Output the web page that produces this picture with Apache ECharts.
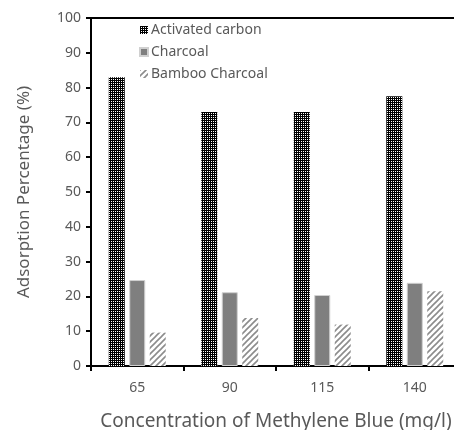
<!DOCTYPE html>
<html>
<head>
<meta charset="utf-8">
<script src="https://cdn.jsdelivr.net/npm/echarts@6/dist/echarts.min.js"></script>
<style>
  html, body { margin: 0; padding: 0; background: #fff; }
  #chart { width: 454px; height: 430px; }
</style>
</head>
<body>
<div id="chart"></div>
<script>
// 数据
const concentrations = ['65', '90', '115', '140'];
const activatedCarbon = [83, 73, 73, 77.5];
const charcoal = [24.7, 21.2, 20.4, 23.9];
const bambooCharcoal = [9.6, 13.8, 11.9, 21.5];

// 填充图案
function makeDots() {
    const c = document.createElement('canvas');
    c.width = 4; c.height = 4;
    const g = c.getContext('2d');
    g.fillStyle = '#000';
    g.fillRect(0, 0, 4, 4);
    g.fillStyle = '#fff';
    [[1, 1], [3, 3], [1, 3], [3, 1]].forEach(p => g.fillRect(p[0], p[1], 1, 1));
    return c;
}

function makeHatch() {
    const c = document.createElement('canvas');
    c.width = 6; c.height = 6;
    const g = c.getContext('2d');
    g.fillStyle = '#fff';
    g.fillRect(0, 0, 6, 6);
    g.strokeStyle = '#8c8c8c';
    g.lineWidth = 1.6;
    g.beginPath();
    g.moveTo(-1, 7); g.lineTo(7, -1);
    g.moveTo(-1, 1); g.lineTo(1, -1);
    g.moveTo(5, 7); g.lineTo(7, 5);
    g.stroke();
    return c;
}

const FONT = 'Noto Sans';
const GREY = '#595959';

const chart = echarts.init(document.getElementById('chart'));

chart.setOption({
    animation: false,
    textStyle: { fontFamily: FONT },
    legend: {
        orient: 'vertical',
        left: 134,
        top: 18,
        itemWidth: 8,
        itemHeight: 8,
        itemGap: 8,
        icon: 'rect',
        textStyle: { color: GREY, fontSize: 14, fontFamily: FONT, padding: [0, 0, 0, -2] },
        data: ['Activated carbon', 'Charcoal', 'Bamboo Charcoal']
    },
    grid: { left: 91, top: 18, width: 370, height: 348, outerBoundsMode: 'none', containLabel: false },
    xAxis: [{
        type: 'category',
        data: concentrations,
        name: 'Concentration of Methylene Blue (mg/l)',
        nameLocation: 'middle',
        nameGap: 46,
        nameTextStyle: { color: GREY, fontSize: 19, fontFamily: FONT },
        axisLine: { lineStyle: { color: '#000', width: 2 } },
        axisTick: { show: true, length: 5, lineStyle: { color: '#000', width: 2 } },
        axisLabel: { color: GREY, fontSize: 14, margin: 15 }
    }, {
        type: 'category',
        position: 'top',
        data: concentrations,
        axisLine: { lineStyle: { color: '#000', width: 2 } },
        axisTick: { show: false },
        axisLabel: { show: false }
    }],
    yAxis: {
        type: 'value',
        min: 0,
        max: 100,
        interval: 10,
        name: 'Adsorption Percentage (%)',
        nameLocation: 'middle',
        nameGap: 58,
        nameTextStyle: { color: GREY, fontSize: 17, fontFamily: FONT },
        axisLine: { show: true, lineStyle: { color: '#000', width: 2 } },
        axisTick: { show: true, length: 5, lineStyle: { color: '#000', width: 2 } },
        axisLabel: { color: GREY, fontSize: 14, margin: 10 },
        splitLine: { show: false }
    },
    series: [{
        name: 'Activated carbon',
        type: 'bar',
        barWidth: 16,
        barGap: '28%',
        data: activatedCarbon,
        itemStyle: { color: { image: makeDots(), repeat: 'repeat' } }
    }, {
        name: 'Charcoal',
        type: 'bar',
        barWidth: 16,
        data: charcoal,
        itemStyle: { color: '#7f7f7f', borderColor: '#d0d0d0', borderWidth: 1 }
    }, {
        name: 'Bamboo Charcoal',
        type: 'bar',
        barWidth: 16,
        data: bambooCharcoal,
        itemStyle: { color: { image: makeHatch(), repeat: 'repeat' } }
    }]
});
</script>
</body>
</html>
